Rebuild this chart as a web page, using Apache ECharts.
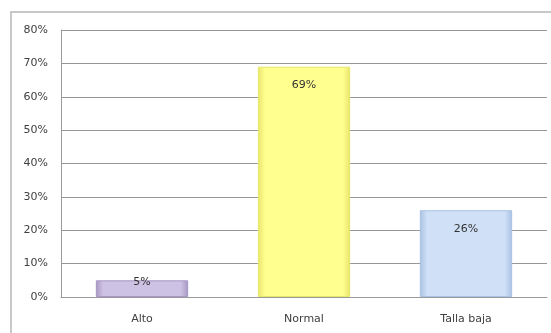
<!DOCTYPE html>
<html>
<head>
<meta charset="utf-8">
<script src="https://cdn.jsdelivr.net/npm/echarts@6/dist/echarts.min.js"></script>
<style>
  html, body { margin: 0; padding: 0; background: #fff; }
  #chart { width: 551px; height: 333px; }
</style>
</head>
<body>
<div id="chart"></div>
<script>
const categories = ['Alto', 'Normal', 'Talla baja']
const values = [5, 69, 26]
const yTicks = [0, 10, 20, 30, 40, 50, 60, 70, 80]

// face / edge colour for each bar
const faceColors = ['#cdc2e3', '#ffff90', '#cfe0f7']
const edgeColors = ['#a797c4', '#e6e66a', '#a9c2e3']

const chart = echarts.init(document.getElementById('chart'))

function barGradient(i) {
  return new echarts.graphic.LinearGradient(0, 0, 1, 0, [
    { offset: 0, color: edgeColors[i] },
    { offset: 0.08, color: faceColors[i] },
    { offset: 0.92, color: faceColors[i] },
    { offset: 1, color: edgeColors[i] }
  ])
}

chart.setOption({
  animation: false,
  graphic: [{
    type: 'rect',
    shape: { x: 11, y: 12, width: 560, height: 340 },
    style: { fill: 'none', stroke: '#c8c8c8', lineWidth: 2 },
    silent: true
  }],
  grid: { left: 61, right: 4, top: 30, bottom: 36 },
  xAxis: {
    type: 'category',
    data: categories,
    axisLine: { lineStyle: { color: '#9a9a9a' } },
    axisTick: { show: false },
    axisLabel: { color: '#404040', fontSize: 11, fontFamily: 'DejaVu Sans', margin: 17 }
  },
  yAxis: {
    type: 'value',
    min: yTicks[0],
    max: yTicks[yTicks.length - 1],
    interval: 10,
    axisLine: { show: true, lineStyle: { color: '#9a9a9a' } },
    axisTick: { show: false },
    axisLabel: {
      color: '#404040', fontSize: 11, fontFamily: 'DejaVu Sans', margin: 13,
      formatter: '{value}%'
    },
    splitLine: { lineStyle: { color: '#969696', width: 1 } }
  },
  series: [{
    type: 'bar',
    barWidth: '57%',
    data: values.map((v, i) => ({
      value: v,
      itemStyle: { color: barGradient(i), borderColor: edgeColors[i], borderWidth: 1 },
      label: v < 10 ? { position: 'insideTop', distance: -4 } : {}
    })),
    label: {
      show: true,
      position: 'insideTop',
      distance: 13,
      color: '#333',
      fontSize: 11,
      fontFamily: 'DejaVu Sans',
      formatter: '{c}%'
    }
  }]
})
</script>
</body>
</html>
